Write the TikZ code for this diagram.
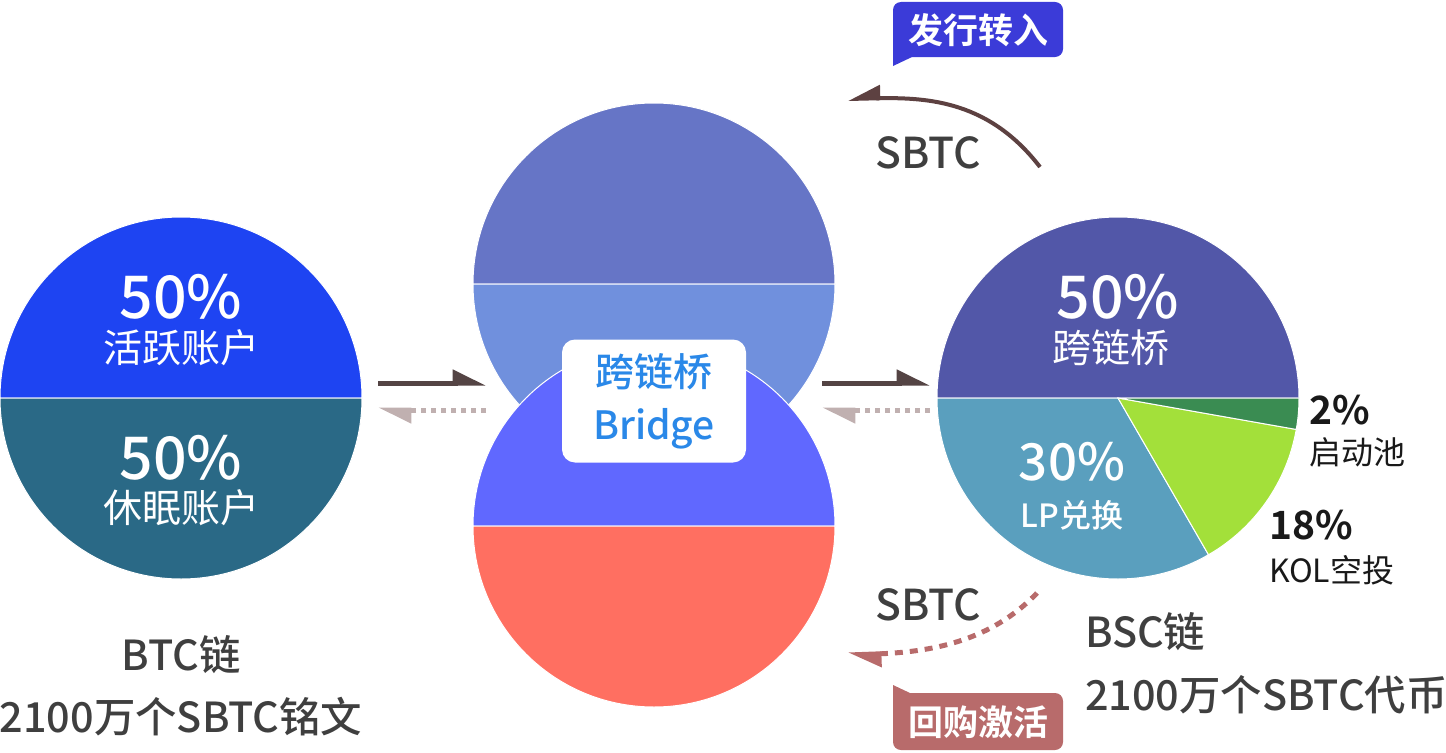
\documentclass[tikz,border=0pt]{standalone}
\usepackage{fontspec}
\setmainfont{Noto Sans CJK SC}[BoldFont={Noto Sans CJK SC Medium}]
\newfontfamily\heavyfont{Noto Sans CJK SC Bold}
\usetikzlibrary{arrows.meta}
\definecolor{actBlue}{HTML}{1E44F2}
\definecolor{sleepTeal}{HTML}{2A6986}
\definecolor{brgTopA}{HTML}{6675C6}
\definecolor{brgTopB}{HTML}{7090DD}
\definecolor{brgBotA}{HTML}{6068FF}
\definecolor{brgBotB}{HTML}{FF6F61}
\definecolor{bscTop}{HTML}{5257A8}
\definecolor{bscLP}{HTML}{5A9FBE}
\definecolor{bscKOL}{HTML}{A3E03A}
\definecolor{bscPool}{HTML}{3A8C52}
\definecolor{txtGray}{HTML}{3F3F3F}
\definecolor{txtBlue}{HTML}{2A88E8}
\definecolor{arrDark}{HTML}{544444}
\definecolor{arrLight}{HTML}{C0B0B0}
\definecolor{arrRed}{HTML}{B86B6B}
\definecolor{tagBlue}{HTML}{3B3BD8}
\newcommand{\fsz}[1]{\fontsize{#1}{#1}\selectfont}

\begin{document}
\begin{tikzpicture}[x=0.5pt, y=0.5pt, >=Stealth, line cap=butt,
  pct/.style={text=white, font=\bfseries\fsz{29.5}},
  pctlbl/.style={text=white, font=\fsz{19.5}},
  sidetxt/.style={text=black!90, font=\fsz{16}, anchor=west},
  sidepct/.style={text=black!90, font=\heavyfont\fsz{19.5}, anchor=west},
  chaintxt/.style={text=txtGray, font=\bfseries\fsz{20.7}},
  coin/.style={text=txtGray, font=\bfseries\fsz{21.3}},
  tagtxt/.style={text=white, font=\heavyfont\fsz{17.5}},
  fwd/.style={arrDark, line width=2.5pt, -{Triangle[harpoon, length=14pt, width=13pt]}},
  back/.style={arrLight, line width=2.5pt, dash pattern=on 2.5pt off 2.5pt, -{Triangle[harpoon, length=14pt, width=13pt]}},
  sector/.style={draw=white, line width=0.5pt}]
\useasboundingbox (0,0) rectangle (1446,752);
% ---------- 左：BTC 链 ----------
\fill[actBlue, sector] (181,354) -- (362,354) arc[start angle=0, end angle=180, radius=181] -- cycle;
\fill[sleepTeal, sector] (181,354) -- (0,354) arc[start angle=180, end angle=360, radius=181] -- cycle;
\node[pct] (actPct) at (181,455) {50\%};
\node[pctlbl] (actLbl) at (181,404) {活跃账户};
\node[pct] (sleepPct) at (181,294) {50\%};
\node[pctlbl] (sleepLbl) at (181,244) {休眠账户};
\node[chaintxt] (btcName) at (181,97) {BTC链};
\node[chaintxt] (btcNum) at (181,35) {2100万个SBTC铭文};
% ---------- 中：跨链桥 ----------
\fill[brgTopA, sector] (654,468) -- (835,468) arc[start angle=0, end angle=180, radius=181] -- cycle;
\fill[brgTopB, sector] (654,468) -- (473,468) arc[start angle=180, end angle=360, radius=181] -- cycle;
\fill[brgBotA, sector] (654,226) -- (835,226) arc[start angle=0, end angle=180, radius=181] -- cycle;
\fill[brgBotB, sector] (654,226) -- (473,226) arc[start angle=180, end angle=360, radius=181] -- cycle;
\node[fill=white, rounded corners=6.5pt, minimum width=92pt, minimum height=61.5pt,
  align=center, text=txtBlue, font=\bfseries\fsz{19.5}] (brg) at (654,351)
  {跨链桥\\[7pt]Bridge};
% ---------- 右：BSC 链 ----------
\fill[bscTop, sector] (1118,354) -- (1299,354) arc[start angle=0, end angle=180, radius=181] -- cycle;
\fill[bscLP, sector] (1118,354) -- (937,354) arc[start angle=180, end angle=300, radius=181] -- cycle;
\fill[bscKOL, sector] (1118,354) -- ++(300:181) arc[start angle=300, end angle=350, radius=181] -- cycle;
\fill[bscPool, sector] (1118,354) -- ++(350:181) arc[start angle=350, end angle=360, radius=181] -- cycle;
\node[pct] (brgPct) at (1118,455) {50\%};
\node[pctlbl] (brgLbl) at (1111,404) {跨链桥};
\node[pct, font=\bfseries\fsz{25.5}] (lpPct) at (1072,290) {30\%};
\node[pctlbl, font=\bfseries\fsz{16}] (lpLbl) at (1072,237) {LP兑换};
\node[sidepct] (poolPct) at (1302,342) {2\%};
\node[sidetxt] (poolLbl) at (1302,300) {启动池};
\node[sidepct] (kolPct) at (1262,227) {18\%};
\node[sidetxt] (kolLbl) at (1262,182) {KOL空投};
\node[chaintxt, anchor=west] (bscName) at (1078,120) {BSC链};
\node[chaintxt, anchor=west] (bscNum) at (1078,57) {2100万个SBTC代币};
% ---------- 箭头 ----------
\coordinate (btcOut) at (378,369);
\coordinate (brgInL) at (486,369);
\coordinate (brgOutL) at (486,342);
\coordinate (btcIn) at (378,342);
\coordinate (brgOutR) at (822,369);
\coordinate (bscIn) at (930,369);
\coordinate (bscOut) at (930,342);
\coordinate (brgInR) at (822,342);
\draw[fwd] (btcOut) -- (brgInL);
\draw[back] (brgOutL) -- (btcIn);
\draw[fwd] (brgOutR) -- (bscIn);
\draw[back] (bscOut) -- (brgInR);
\coordinate (issueFrom) at (1040,585);
\coordinate (issueTo) at (848,653);
\coordinate (buyFrom) at (1037,159);
\coordinate (buyTo) at (848,97);
\draw[arrDark!95!red, line width=2pt, -{Triangle[harpoon, swap, length=14pt, width=13pt]}]
  (issueFrom) .. controls (990,650) and (930,655) .. (issueTo);
\draw[arrRed, line width=2.5pt, dash pattern=on 4pt off 3.5pt, -{Triangle[harpoon, length=14pt, width=13pt]}]
  (buyFrom) .. controls (990,110) and (930,100) .. (buyTo);
\node[coin] (coinUp) at (928,599) {SBTC};
\node[coin] (coinDown) at (928,147) {SBTC};
% ---------- 标签 ----------
\fill[tagBlue, rounded corners=4pt] (893,695) -- (893,750) -- (1063,750) -- (1063,695) -- cycle;
\fill[tagBlue] (893,712) -- (893,686) -- (912,695) -- (905,712) -- cycle;
\node[tagtxt] (issueTag) at (978,722) {发行转入};
\fill[arrRed, rounded corners=4pt] (893,2) -- (893,59) -- (1063,59) -- (1063,2) -- cycle;
\fill[arrRed] (893,40) -- (893,67) -- (910,59) -- (905,40) -- cycle;
\node[tagtxt] (buyTag) at (978,30) {回购激活};
\end{tikzpicture}
\end{document}
